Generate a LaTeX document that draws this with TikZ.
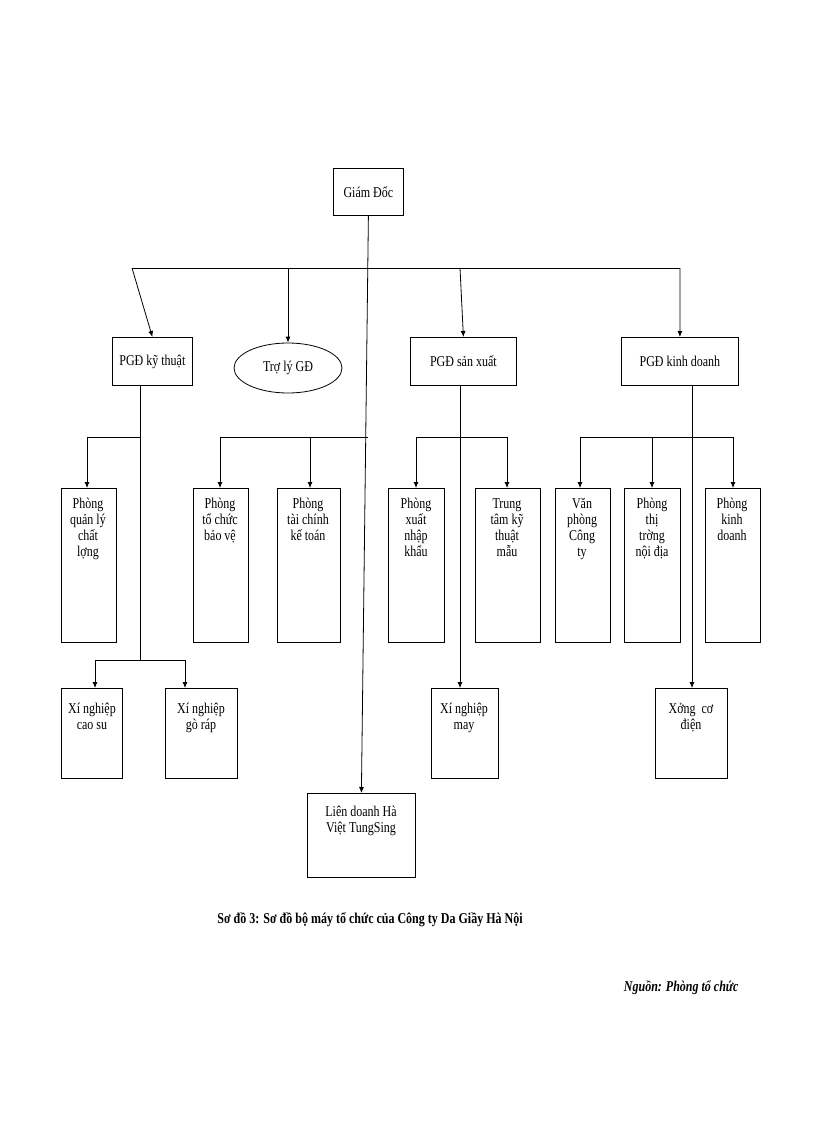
\documentclass[tikz,border=0pt]{standalone}
\usepackage{fontspec}
\setmainfont{Liberation Serif}[FakeStretch=0.8]
\usetikzlibrary{arrows.meta,shapes.geometric}
\begin{document}
\begin{tikzpicture}[x=1pt,y=-1pt,
  box/.style={draw,thick,align=center,font=\fontsize{15}{16}\selectfont,inner sep=0pt},
  arr/.style={thick,-{Latex[length=6pt,width=5pt]}},
  ln/.style={thick}]
\useasboundingbox (0,0) rectangle (816,1123);
\def\bx#1#2#3#4#5#6{\node[box,minimum width={#4-#2},minimum height={#5-#3},anchor=north west] (#1) at (#2,#3) {#6};}
\bx{gd}{333}{168}{403}{215}{Giám Đốc}
\bx{kt}{112}{337}{192}{385}{PGĐ kỹ thuật}
\node[draw,thick,ellipse,minimum width=108,minimum height=50,font=\fontsize{15}{16}\selectfont] (tl) at (288,368) {Trợ lý GĐ};
\bx{sx}{410}{337}{516}{385}{PGĐ sản xuất}
\bx{kd}{621}{337}{738}{385}{PGĐ kinh doanh}
\node[box,anchor=north west,minimum width=55,minimum height=154,text width=55] (ql) at (61,488) {\raisebox{0pt}{}}; 
\node[font=\fontsize{15}{16}\selectfont,align=center,anchor=north] at (88,495) {Phòng\\quản lý\\chất\\lợng};
\node[box,anchor=north west,minimum width=55,minimum height=154] (tc) at (193,488) {};
\node[font=\fontsize{15}{16}\selectfont,align=center,anchor=north] at (220,495) {Phòng\\tổ chức\\bảo vệ};
\node[box,anchor=north west,minimum width=63,minimum height=154] (tckt) at (277,488) {};
\node[font=\fontsize{15}{16}\selectfont,align=center,anchor=north] at (308,495) {Phòng\\tài chính\\kế toán};
\node[box,anchor=north west,minimum width=56,minimum height=154] (xnk) at (388,488) {};
\node[font=\fontsize{15}{16}\selectfont,align=center,anchor=north] at (416,495) {Phòng\\xuất\\nhập\\khẩu};
\node[box,anchor=north west,minimum width=65,minimum height=154] (tt) at (475,488) {};
\node[font=\fontsize{15}{16}\selectfont,align=center,anchor=north] at (507,495) {Trung\\tâm kỹ\\thuật\\mẫu};
\node[box,anchor=north west,minimum width=55,minimum height=154] (vp) at (555,488) {};
\node[font=\fontsize{15}{16}\selectfont,align=center,anchor=north] at (582,495) {Văn\\phòng\\Công\\ty};
\node[box,anchor=north west,minimum width=56,minimum height=154] (tn) at (624,488) {};
\node[font=\fontsize{15}{16}\selectfont,align=center,anchor=north] at (652,495) {Phòng\\thị\\trờng\\nội địa};
\node[box,anchor=north west,minimum width=55,minimum height=154] (pkd) at (705,488) {};
\node[font=\fontsize{15}{16}\selectfont,align=center,anchor=north] at (732,495) {Phòng\\kinh\\doanh};
\node[box,anchor=north west,minimum width=61,minimum height=90] (cs) at (61,688) {};
\node[font=\fontsize{15}{16}\selectfont,align=center,anchor=north] at (92,700) {Xí nghiệp\\cao su};
\node[box,anchor=north west,minimum width=72,minimum height=90] (gr) at (165,688) {};
\node[font=\fontsize{15}{16}\selectfont,align=center,anchor=north] at (201,700) {Xí nghiệp\\gò ráp};
\node[box,anchor=north west,minimum width=67,minimum height=90] (may) at (431,688) {};
\node[font=\fontsize{15}{16}\selectfont,align=center,anchor=north] at (464,700) {Xí nghiệp\\may};
\node[box,anchor=north west,minimum width=72,minimum height=90] (cd) at (655,688) {};
\node[font=\fontsize{15}{16}\selectfont,align=center,anchor=north] at (691,700) {Xởng\ \ cơ\\điện};
\node[box,anchor=north west,minimum width=108,minimum height=84] (ld) at (307,793) {};
\node[font=\fontsize{15}{16}\selectfont,align=center,anchor=north] at (361,803) {Liên doanh Hà\\Việt TungSing};
\node[font=\bfseries\fontsize{15}{16}\selectfont] (cap) at (370,920) {Sơ đồ 3: Sơ đồ bộ máy tổ chức của Công ty Da Giầy Hà Nội};
\node[font=\bfseries\itshape\fontsize{15}{16}\selectfont,anchor=east] (src) at (742,988) {Nguồn: Phòng tổ chức};
% level 1
\coordinate (c1) at (368,268);
\draw[ln] (132,268) -- (680,268);
\draw[arr] (gd.south) -- (ld.north);
\draw[arr] (132,268) -- (kt.north);
\draw[arr] (288,268) -- (tl.north);
\draw[arr] (460,268) -- (sx.north);
\draw[arr] (680,268) -- (kd.north);
% kt branch
\draw[ln] (140,385) -- (140,660);
\draw[ln] (87,437) -- (140,437);
\draw[arr] (87,437) -- (87,488);
\draw[ln] (95,660) -- (185,660);
\draw[arr] (95,660) -- (95,688);
\draw[arr] (185,660) -- (185,688);
% center branch
\draw[ln] (220,437) -- (368,437);
\draw[arr] (220,437) -- (220,488);
\draw[arr] (310,437) -- (310,488);
% sx branch
\draw[arr] (460,385) -- (460,688);
\draw[ln] (416,437) -- (507,437);
\draw[arr] (416,437) -- (416,488);
\draw[arr] (507,437) -- (507,488);
% kd branch
\draw[arr] (692,385) -- (692,688);
\draw[ln] (580,437) -- (733,437);
\draw[arr] (580,437) -- (580,488);
\draw[arr] (652,437) -- (652,488);
\draw[arr] (733,437) -- (733,488);
\end{tikzpicture}
\end{document}
